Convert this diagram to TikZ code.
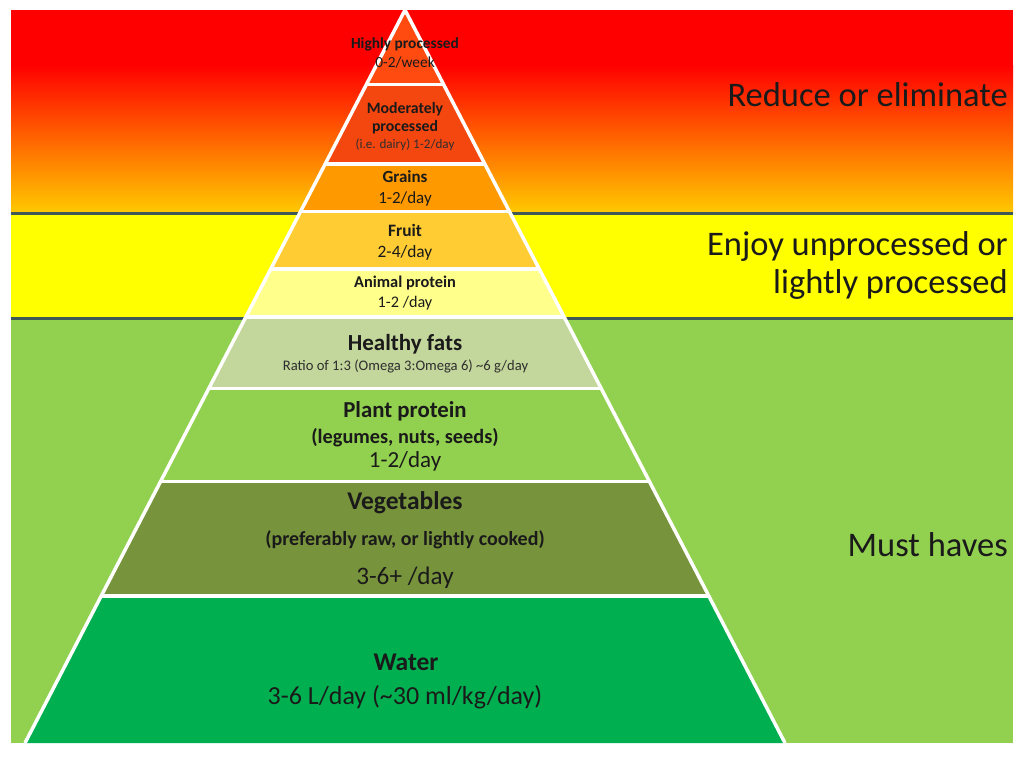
\documentclass[tikz,border=0pt]{standalone}
\usepackage{fontspec}
\setmainfont{Carlito}
\definecolor{bgred}{HTML}{FF0000}
\definecolor{bgorange}{HTML}{FF8C00}
\definecolor{bgyelor}{HTML}{FFC800}
\definecolor{bgyellow}{HTML}{FFFF00}
\definecolor{bggreen}{HTML}{92D050}
\definecolor{bandline}{HTML}{3E5856}
\definecolor{cA}{HTML}{FF4A10}
\definecolor{cB}{HTML}{F4460F}
\definecolor{cC}{HTML}{FF9900}
\definecolor{cD}{HTML}{FFCC33}
\definecolor{cE}{HTML}{FFFF8C}
\definecolor{cF}{HTML}{C3D69B}
\definecolor{cG}{HTML}{92D050}
\definecolor{cH}{HTML}{77933C}
\definecolor{cI}{HTML}{00B050}
\definecolor{txt}{HTML}{1A1A1A}
\definecolor{txtsoft}{HTML}{2E2E2E}
\newcommand\pyL[1]{({405-(#1-10)*0.51842},#1)}
\newcommand\pyR[1]{({405+(#1-10)*0.51842},#1)}
\newcommand\pylayer[3]{\fill[#3] \pyL{#1} -- \pyR{#1} -- \pyR{#2} -- \pyL{#2} -- cycle;}
\newcommand\fsz[1]{\fontsize{#1}{#1}\selectfont}
\tikzset{
  lbl/.style={anchor=base, text=txt, inner sep=0pt},
  lbls/.style={anchor=base, text=txtsoft, inner sep=0pt},
  rlbl/.style={anchor=base east, text=txt, inner sep=0pt, font=\fsz{34.5}},
  sep/.style={draw=white, line width=3.5pt},
  band/.style={fill=bandline}
}
\begin{document}
\begin{tikzpicture}[x=1pt,y=-1pt]
\useasboundingbox (0,0) rectangle (1024,777);
\fill[white] (0,0) rectangle (1024,777);
% background bands
\fill[bgred] (11,10) rectangle (1013,66);
\shade[top color=bgred, middle color=bgorange, bottom color=bgyelor] (11,65) rectangle (1013,212);
\fill[bgyellow] (11,214) rectangle (1013,317);
\fill[bggreen] (11,319) rectangle (1013,743);
\fill[band] (11,211.5) rectangle (1013,215);
\fill[band] (11,316.8) rectangle (1013,320);
% pyramid layers
\pylayer{10}{84.5}{cA}
\pylayer{84.5}{164}{cB}
\pylayer{164}{211.5}{cC}
\pylayer{211.5}{269}{cD}
\pylayer{269}{317}{cE}
\pylayer{317}{388.5}{cF}
\pylayer{388.5}{481.5}{cG}
\pylayer{481.5}{596}{cH}
\pylayer{596}{743}{cI}
% separators
\foreach \b in {84.5,164,211.5,269,317,388.5,481.5,596}{
  \draw[sep] \pyL{\b} -- \pyR{\b};
}
\draw[sep, line join=miter] \pyL{743} -- (405,10) -- \pyR{743};
% labels inside pyramid
\node[lbl, font=\fsz{15.4}\bfseries] (hp1) at (405,48) {Highly processed};
\node[lbl, font=\fsz{15.4}] (hp2) at (405,67) {0-2/week};
\node[lbl, font=\fsz{15.8}\bfseries] (mp1) at (405,113) {Moderately};
\node[lbl, font=\fsz{15.8}\bfseries] (mp2) at (405,131.5) {processed};
\node[lbls, font=\fsz{13.1}] (mp3) at (405,148) {(i.e. dairy) 1-2/day};
\node[lbl, font=\fsz{17}\bfseries] (gr1) at (405,182) {Grains};
\node[lbl, font=\fsz{17}] (gr2) at (405,203) {1-2/day};
\node[lbl, font=\fsz{17.4}\bfseries] (fr1) at (405,236) {Fruit};
\node[lbl, font=\fsz{17.4}] (fr2) at (405,257) {2-4/day};
\node[lbl, font=\fsz{16.4}\bfseries] (ap1) at (405,287) {Animal protein};
\node[lbl, font=\fsz{16.2}] (ap2) at (405,307) {1-2 /day};
\node[lbl, font=\fsz{23}\bfseries] (hf1) at (405,350) {Healthy fats};
\node[lbls, font=\fsz{14.6}] (hf2) at (405.5,370) {Ratio of 1:3 (Omega 3:Omega 6) \textasciitilde6 g/day};
\node[lbl, font=\fsz{22.8}\bfseries] (pp1) at (405,417) {Plant protein};
\node[lbl, font=\fsz{20.3}\bfseries] (pp2) at (405,443) {(legumes, nuts, seeds)};
\node[lbl, font=\fsz{23}] (pp3) at (405,467) {1-2/day};
\node[lbl, font=\fsz{25.5}\bfseries] (vg1) at (405,509) {Vegetables};
\node[lbl, font=\fsz{20}\bfseries] (vg2) at (405,545) {(preferably raw, or lightly cooked)};
\node[lbl, font=\fsz{25.2}] (vg3) at (405,584) {3-6+ /day};
\node[lbl, font=\fsz{25.5}\bfseries] (wa1) at (406,670) {Water};
\node[lbl, font=\fsz{26}] (wa2) at (405,704) {3-6 L/day (\textasciitilde30 ml/kg/day)};
% right-hand labels
\node[rlbl] (r1) at (1008,106) {Reduce or eliminate};
\node[rlbl] (r2) at (1008,255) {Enjoy unprocessed or};
\node[rlbl] (r3) at (1008,293) {lightly processed};
\node[rlbl] (r4) at (1008,556) {Must haves};
\end{tikzpicture}
\end{document}
